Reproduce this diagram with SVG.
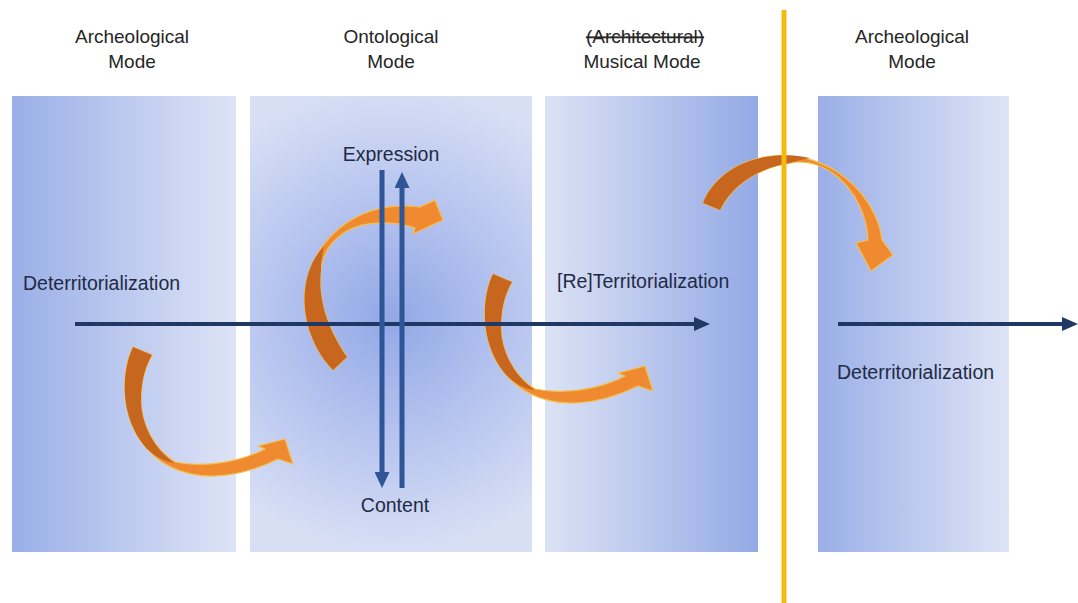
<svg xmlns="http://www.w3.org/2000/svg" width="1078" height="603" viewBox="0 0 1078 603">
  <style>
    .hdr { font-family: "Liberation Sans", Arial, sans-serif; font-size: 19px; fill: #262626; text-anchor: middle; }
    .lbl { font-family: "Liberation Sans", Arial, sans-serif; font-size: 19.5px; fill: #1f2a44; }
    .mid { text-anchor: middle; }
    .navy { stroke: #1f3864; stroke-width: 4; fill: none; }
    .vblue { stroke: #2f5597; stroke-width: 5; fill: none; }
    .obright { fill: #ef8a30; stroke: #f6c04e; stroke-width: 1.2; stroke-linejoin: round; }
    .odark { fill: #c7661f; }
  </style>
  <defs>
    <linearGradient id="gL" x1="0" y1="0" x2="1" y2="0">
      <stop offset="0" stop-color="#9aafe8"/>
      <stop offset="1" stop-color="#dee4f6"/>
    </linearGradient>
    <linearGradient id="gR" x1="0" y1="0" x2="1" y2="0">
      <stop offset="0" stop-color="#dce2f5"/>
      <stop offset="1" stop-color="#94aae6"/>
    </linearGradient>
    <radialGradient id="gC" gradientUnits="userSpaceOnUse" cx="392" cy="318" r="235">
      <stop offset="0" stop-color="#92a8e6"/>
      <stop offset="0.45" stop-color="#b2c1ee"/>
      <stop offset="1" stop-color="#d8dff5"/>
    </radialGradient>
    <marker id="mNavy" markerUnits="userSpaceOnUse" markerWidth="16" markerHeight="14" refX="2" refY="7" orient="auto">
      <path d="M0,0 L16,7 L0,14 Z" fill="#1f3864"/>
    </marker>
    <marker id="mBlue" markerUnits="userSpaceOnUse" markerWidth="16" markerHeight="15" refX="2" refY="7.5" orient="auto">
      <path d="M0,0 L16,7.5 L0,15 Z" fill="#2f5597"/>
    </marker>
  </defs>

  <rect width="1078" height="603" fill="#ffffff"/>

  <!-- Panels -->
  <g id="panel-archeological-1">
    <rect x="12" y="96" width="224" height="456" fill="url(#gL)"/>
  </g>
  <g id="panel-ontological">
    <rect x="250" y="96" width="282" height="456" fill="url(#gC)"/>
  </g>
  <g id="panel-musical">
    <rect x="545" y="96" width="213" height="456" fill="url(#gR)"/>
  </g>
  <g id="panel-archeological-2">
    <rect x="818" y="96" width="191" height="456" fill="url(#gL)"/>
  </g>

  <!-- Orange curved arrows -->
  <g id="curved-arrows">
    <g id="curve-1">
      <path class="obright" d="M133,347 C122,370 120,410 140,440 C155,462 180,477 215,476 C240,475 262,467 278,459 L293,464 L285,439 L258,446 L265,449 C240,462 205,468 175,462 C155,450 141,425 141,400 C141,380 146,365 152,355 Z"/>
      <path class="odark" d="M133,347 C122,370 120,410 140,440 C148,452 160,461 175,463 C155,450 141,425 141,400 C141,380 146,365 152,355 Z"/>
    </g>
    <g id="curve-2">
      <path class="obright" d="M333,370 C313,350 302,318 305,290 C308,262 325,238 345,224 C365,210 390,203 420,207 L435,200 L443,220 L413,234 L415,228 C395,221 365,220 345,232 C330,242 322,256 321,270 C318,295 325,325 347,357 Z"/>
      <path class="odark" d="M333,370 C313,350 302,318 305,290 C307,272 313,258 324,246 C322,255 321,262 321,270 C318,295 325,325 347,357 Z"/>
    </g>
    <g id="curve-3" transform="translate(360,-73)">
      <path class="obright" d="M133,347 C122,370 120,410 140,440 C155,462 180,477 215,476 C240,475 262,467 278,459 L293,464 L285,439 L258,446 L265,449 C240,462 205,468 175,462 C155,450 141,425 141,400 C141,380 146,365 152,355 Z"/>
      <path class="odark" d="M133,347 C122,370 120,410 140,440 C148,452 160,461 175,463 C155,450 141,425 141,400 C141,380 146,365 152,355 Z"/>
    </g>
    <g id="curve-4">
      <path class="obright" d="M703,203 C712,180 735,162 765,157 C795,152 825,160 848,180 C868,197 880,220 882,240 L893,255 L871,271 L856,243 L868,240 C867,215 855,192 838,177 C822,164 805,160 790,163 C765,167 735,180 720,210 Z"/>
      <path class="odark" d="M703,203 C712,180 735,162 765,157 C782,154 797,155 810,158 C803,159 796,161 790,163 C765,167 735,180 720,210 Z"/>
    </g>
  </g>

  <!-- Connectors -->
  <g id="connectors">
    <line class="navy" x1="75" y1="324" x2="696" y2="324" marker-end="url(#mNavy)"/>
    <line class="navy" x1="838" y1="324" x2="1064" y2="324" marker-end="url(#mNavy)"/>
    <line class="vblue" x1="382" y1="170" x2="382" y2="474" marker-end="url(#mBlue)"/>
    <line class="vblue" x1="402" y1="488" x2="402" y2="186" marker-end="url(#mBlue)"/>
  </g>

  <!-- Yellow divider -->
  <g id="divider">
    <line x1="784" y1="10" x2="784" y2="603" stroke="#f3b90f" stroke-width="5"/>
  </g>

  <!-- Headers -->
  <g id="header-archeological-1">
    <text class="hdr" x="132" y="43">Archeological</text>
    <text class="hdr" x="132" y="68">Mode</text>
  </g>
  <g id="header-ontological">
    <text class="hdr" x="391" y="43">Ontological</text>
    <text class="hdr" x="391" y="68">Mode</text>
  </g>
  <g id="header-musical">
    <text class="hdr" x="645" y="43" text-decoration="line-through">(Architectural)</text>
    <text class="hdr" x="642" y="68">Musical Mode</text>
  </g>
  <g id="header-archeological-2">
    <text class="hdr" x="912" y="43">Archeological</text>
    <text class="hdr" x="912" y="68">Mode</text>
  </g>

  <!-- Labels -->
  <g id="label-deterritorialization-1">
    <text class="lbl" x="23" y="290">Deterritorialization</text>
  </g>
  <g id="label-expression">
    <text class="lbl mid" x="391" y="161">Expression</text>
  </g>
  <g id="label-content">
    <text class="lbl mid" x="395" y="512">Content</text>
  </g>
  <g id="label-reterritorialization">
    <text class="lbl" x="557" y="288">[Re]Territorialization</text>
  </g>
  <g id="label-deterritorialization-2">
    <text class="lbl" x="837" y="379">Deterritorialization</text>
  </g>
</svg>
